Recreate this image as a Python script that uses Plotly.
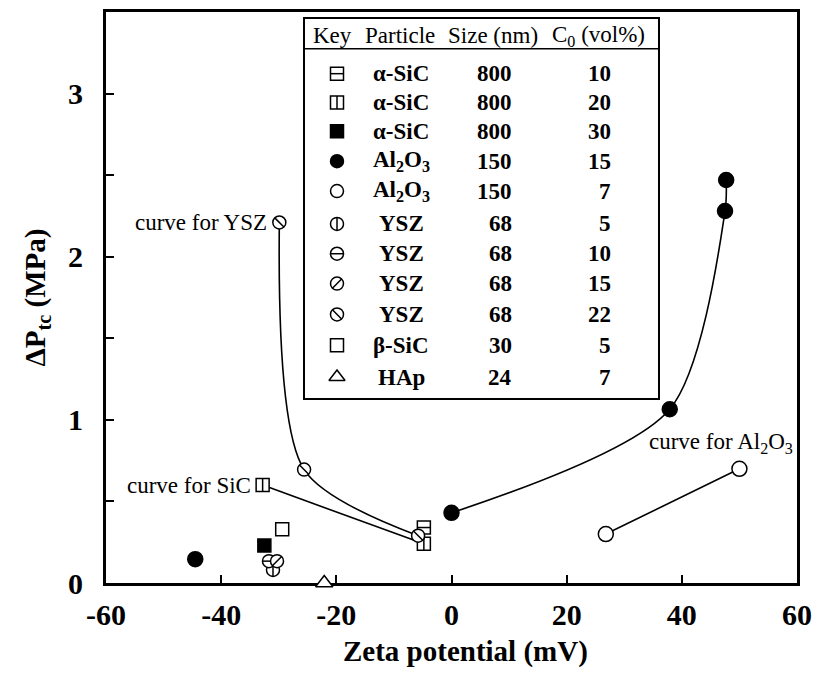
import plotly.graph_objects as go

# ---------------- data ----------------
sic10_x = [-4.8];                     sic10_y = [0.34]
sic20_x = [-32.8, -4.8];              sic20_y = [0.60, 0.24]
sic30_x = [-32.5];                    sic30_y = [0.23]
al15_x = [-44.5, 0.0, 37.9, 47.5, 47.7]
al15_y = [0.146, 0.43, 1.065, 2.28, 2.47]
al7_x = [26.8, 50.0];                 al7_y = [0.30, 0.70]
ysz5_x = [-31.0];                     ysz5_y = [0.08]
ysz10_x = [-31.7];                    ysz10_y = [0.134]
ysz15_x = [-30.3];                    ysz15_y = [0.134]
ysz22_x = [-29.9, -25.6, -5.8];       ysz22_y = [2.21, 0.695, 0.29]
bsic_x = [-29.4];                     bsic_y = [0.33]
hap_x = [-22.1];                      hap_y = [0.0]

# table (key) contents
key_ids = ["sic10", "sic20", "sic30", "al15", "al7",
           "ysz5", "ysz10", "ysz15", "ysz22", "bsic", "hap"]
particles = ["α-SiC", "α-SiC", "α-SiC", "Al<sub>2</sub>O<sub>3</sub>",
             "Al<sub>2</sub>O<sub>3</sub>", "YSZ", "YSZ", "YSZ", "YSZ",
             "β-SiC", "HAp"]
sizes_nm = [800, 800, 800, 150, 150, 68, 68, 68, 68, 30, 24]
c0_vol = [10, 20, 30, 15, 7, 5, 10, 15, 22, 5, 7]

x_ticks = [-60, -40, -20, 0, 20, 40, 60]
x_tick_text = ["-60", "-40", "-20", "0", "20", "40", "60"]
y_ticks = [0, 1, 2, 3]
y_tick_text = ["0", "1", "2", "3"]
y_minor_step = 0.5

series = {
    "sic10": (sic10_x, sic10_y), "sic20": (sic20_x, sic20_y),
    "sic30": (sic30_x, sic30_y), "al15": (al15_x, al15_y),
    "al7": (al7_x, al7_y), "ysz5": (ysz5_x, ysz5_y),
    "ysz10": (ysz10_x, ysz10_y), "ysz15": (ysz15_x, ysz15_y),
    "ysz22": (ysz22_x, ysz22_y), "bsic": (bsic_x, bsic_y),
    "hap": (hap_x, hap_y),
}
# fitted curves: series and the indices of its points that are joined
curves = [("ysz22", [0, 1, 2]), ("sic20", [0, 1]), ("al15", [1, 2, 3, 4]),
          ("al7", [0, 1])]

# ---------------- styles ----------------
SERIF = "Liberation Serif"
# base symbol, fill, overlay line symbol, size
styles = {
    "sic10": ("square", "white", "line-ew", 13),
    "sic20": ("square", "white", "line-ns", 13),
    "sic30": ("square", "black", None, 13),
    "al15": ("circle", "black", None, 15),
    "al7": ("circle", "white", None, 15),
    "ysz5": ("circle", "white", "line-ns", 13),
    "ysz10": ("circle", "white", "line-ew", 13),
    "ysz15": ("circle", "white", "line-ne", 13),
    "ysz22": ("circle", "white", "line-nw", 13),
    "bsic": ("square", "white", None, 13),
    "hap": ("triangle-up", "white", None, 15),
}


def overlay_size(sym, size):
    if sym in ("line-ew", "line-ns"):
        return size / 1.4
    return size / 1.414


def add_marker(fig, xs, ys, key, size=None, xaxis="x", yaxis="y"):
    base, fill, over, s = styles[key]
    s = size or s
    fig.add_trace(go.Scatter(
        x=xs, y=ys, mode="markers", xaxis=xaxis, yaxis=yaxis,
        cliponaxis=False, hoverinfo="skip", showlegend=False,
        marker=dict(symbol=base, size=s, color=fill,
                    line=dict(color="black", width=1.5))))
    if over:
        fig.add_trace(go.Scatter(
            x=xs, y=ys, mode="markers", xaxis=xaxis, yaxis=yaxis,
            cliponaxis=False, hoverinfo="skip", showlegend=False,
            marker=dict(symbol=over, size=overlay_size(over, s),
                        color="black", line=dict(color="black", width=1.5))))


fig = go.Figure()

# curves first
for key, idx in curves:
    xs, ys = series[key]
    fig.add_trace(go.Scatter(
        x=[xs[i] for i in idx], y=[ys[i] for i in idx], mode="lines",
        line=dict(color="black", width=1.6, shape="spline", smoothing=0.8),
        hoverinfo="skip", showlegend=False))

for key in key_ids:
    xs, ys = series[key]
    add_marker(fig, xs, ys, key)

# ---------------- key table (layout positions in plot fractions) ----------------
L, R, T, B = 106, 797, 9, 583


def fx(px):
    return (px - L) / (R - L)


def fy(py):
    return (B - py) / (B - T)


tab_left, tab_right, tab_top, tab_bot, head_line = 304, 659, 15, 398, 46
row_y = [71, 100, 129, 159, 189, 222, 252, 282, 313, 344, 376]

fig.add_shape(type="rect", xref="paper", yref="paper",
              x0=fx(tab_left), x1=fx(tab_right), y0=fy(tab_bot), y1=fy(tab_top),
              line=dict(color="black", width=2), fillcolor="white", layer="below")
fig.add_shape(type="line", xref="paper", yref="paper",
              x0=fx(tab_left), x1=fx(tab_right), y0=fy(head_line), y1=fy(head_line),
              line=dict(color="black", width=1.5), layer="below")

head_font = dict(family=SERIF, size=23, color="black")
row_font = dict(family=SERIF, size=23, color="black", weight="bold")
for txt, cx in [("Key", 332), ("Particle", 400), ("Size (nm)", 493),
                ("C<sub>0</sub> (vol%)", 598)]:
    fig.add_annotation(x=fx(cx), y=fy(33), xref="paper", yref="paper",
                       text=txt, showarrow=False, font=head_font,
                       xanchor="center", yanchor="middle")

for i, key in enumerate(key_ids):
    yy = fy(row_y[i])
    add_marker(fig, [fx(337)], [yy], key,
               size=13 if styles[key][0] != "triangle-up" else 14,
               xaxis="x2", yaxis="y2")
    fig.add_annotation(x=fx(401), y=yy, xref="paper", yref="paper",
                       text=particles[i], showarrow=False, font=row_font,
                       xanchor="center", yanchor="middle")
    fig.add_annotation(x=fx(514), y=yy, xref="paper", yref="paper",
                       text=str(sizes_nm[i]), showarrow=False, font=row_font,
                       xanchor="right", yanchor="middle")
    fig.add_annotation(x=fx(613), y=yy, xref="paper", yref="paper",
                       text=str(c0_vol[i]), showarrow=False, font=row_font,
                       xanchor="right", yanchor="middle")

# ---------------- curve labels ----------------
lab_font = dict(family=SERIF, size=23, color="black")
fig.add_annotation(x=ysz22_x[0], y=ysz22_y[0], xref="x", yref="y",
                   text="curve for YSZ", showarrow=False, font=lab_font,
                   xanchor="right", yanchor="middle", xshift=-10)
fig.add_annotation(x=sic20_x[0], y=sic20_y[0], xref="x", yref="y",
                   text="curve for SiC", showarrow=False, font=lab_font,
                   xanchor="right", yanchor="middle", xshift=-10)
fig.add_annotation(x=1, y=fy(442), xref="paper", yref="paper",
                   text="curve for Al<sub>2</sub>O<sub>3</sub>", showarrow=False,
                   font=lab_font, xanchor="right", yanchor="middle", xshift=-2)

tick_font = dict(family=SERIF, size=30, color="black", weight="bold")
title_font = dict(family=SERIF, size=29, color="black", weight="bold")

# x-axis title (placed slightly right of centre as in the original)
fig.add_annotation(x=fx(465), y=0, xref="paper", yref="paper",
                   text="Zeta potential (mV)", showarrow=False, font=title_font,
                   xanchor="center", yanchor="top", yshift=-50)

axis_common = dict(ticks="inside", ticklen=8, tickwidth=2, tickcolor="black",
                   showline=True, linewidth=3, linecolor="black", mirror=True,
                   showgrid=False, zeroline=False, tickfont=tick_font,
                   layer="below traces")

fig.update_layout(
    width=828, height=675,
    margin=dict(l=L, r=828 - R, t=T, b=675 - B),
    paper_bgcolor="white", plot_bgcolor="white",
    showlegend=False,
    xaxis=dict(range=[-60, 60], tickvals=x_ticks, ticktext=x_tick_text,
               ticklabelstandoff=3, **axis_common),
    yaxis=dict(range=[0, 3.5], tickvals=y_ticks, ticktext=y_tick_text,
               ticklabelstandoff=14,
               minor=dict(dtick=y_minor_step, tick0=0, ticks="inside",
                          ticklen=8, tickwidth=2, tickcolor="black",
                          showgrid=False),
               title=dict(text="ΔP<sub>tc</sub> (MPa)", font=title_font, standoff=14),
               **axis_common),
    xaxis2=dict(domain=[0, 1], range=[0, 1], overlaying="x", anchor="y2",
                visible=False),
    yaxis2=dict(domain=[0, 1], range=[0, 1], overlaying="y", anchor="x2",
                visible=False),
)

fig.write_html("out.html")
